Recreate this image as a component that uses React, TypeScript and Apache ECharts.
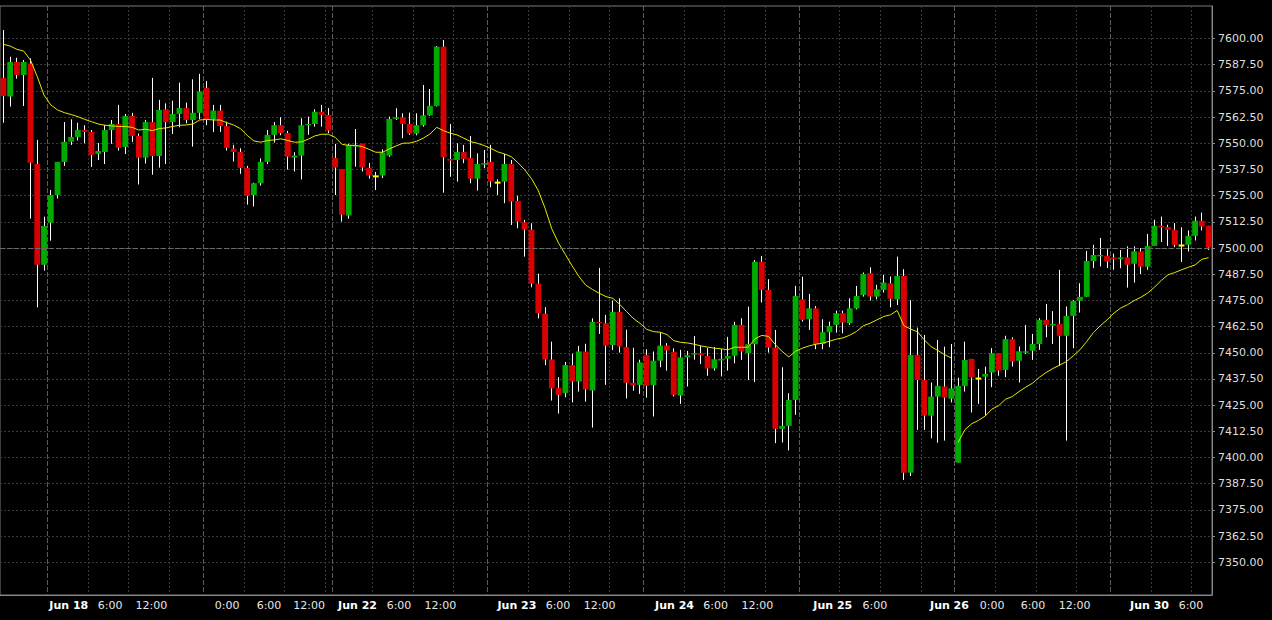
import React, { useEffect, useRef } from 'react';
import * as echarts from 'echarts';

// ---- data ----
const openVals = [
  7581.3, 7572.3, 7588.8, 7582.6, 7588.1, 7540.1, 7492.0, 7512.1, 7525.3, 7541.1,
  7550.7, 7553.0, 7556.3, 7555.4, 7544.9, 7545.8, 7556.3, 7559.2, 7548.2, 7563.0,
  7553.5, 7543.1, 7560.1, 7543.9, 7566.2, 7560.1, 7564.0, 7566.8, 7561.1, 7564.5,
  7576.4, 7561.4, 7565.6, 7558.2, 7547.4, 7545.8, 7538.2, 7525.3, 7530.9, 7541.1,
  7554.0, 7558.6, 7554.9, 7543.1, 7544.1, 7558.6, 7559.2, 7565.0, 7563.5, 7543.0,
  7537.7, 7515.5, 7548.4, 7549.7, 7538.2, 7534.2, 7534.6, 7544.1, 7561.6, 7562.4,
  7559.2, 7554.6, 7558.6, 7563.3, 7567.8, 7596.1, 7542.5, 7542.0, 7545.8, 7543.0,
  7533.1, 7539.8, 7541.1, 7531.2, 7531.7, 7540.1, 7522.5, 7512.3, 7508.8, 7483.0,
  7468.6, 7446.8, 7433.3, 7430.7, 7444.1, 7436.3, 7450.6, 7432.0, 7464.7, 7464.1,
  7453.7, 7469.5, 7452.7, 7435.7, 7434.7, 7449.0, 7434.6, 7446.2, 7453.4, 7450.5,
  7429.6, 7447.8, 7449.4, 7449.8, 7448.5, 7442.5, 7446.3, 7447.2, 7448.6, 7463.3,
  7449.8, 7454.1, 7493.5, 7480.0, 7452.5, 7413.7, 7415.1, 7427.5, 7475.5, 7466.0,
  7471.2, 7454.2, 7459.8, 7463.3, 7468.9, 7464.1, 7471.2, 7477.6, 7488.0, 7476.8,
  7480.0, 7483.2, 7475.5, 7486.7, 7392.8, 7448.9, 7437.0, 7420.0, 7429.1, 7433.9,
  7428.1, 7397.6, 7434.2, 7447.1, 7437.7, 7438.6, 7440.6, 7449.8, 7441.8, 7456.5,
  7446.2, 7450.0, 7451.0, 7454.2, 7465.7, 7463.0, 7463.8, 7458.1, 7467.6, 7474.8,
  7476.7, 7493.8, 7496.0, 7496.3, 7495.5, 7494.7, 7495.5, 7492.5, 7498.4, 7491.1,
  7501.0, 7510.6, 7510.0, 7508.7, 7501.2, 7501.5, 7505.8, 7513.0, 7510.6,
];

const closeVals = [
  7572.6, 7588.8, 7582.6, 7588.8, 7540.7, 7492.0, 7510.5, 7525.3, 7541.1, 7550.7,
  7553.0, 7556.3, 7555.4, 7544.4, 7546.3, 7556.3, 7559.2, 7547.8, 7563.0, 7553.5,
  7543.1, 7560.1, 7543.9, 7565.9, 7560.1, 7564.0, 7566.8, 7561.1, 7564.5, 7574.7,
  7561.1, 7565.6, 7558.2, 7547.8, 7545.8, 7538.2, 7524.9, 7530.9, 7541.1, 7554.0,
  7558.6, 7554.9, 7543.6, 7544.1, 7558.6, 7559.2, 7565.0, 7563.5, 7556.0, 7538.4,
  7515.9, 7549.2, 7549.0, 7538.4, 7534.6, 7534.2, 7545.6, 7561.6, 7562.4, 7559.2,
  7554.6, 7558.6, 7563.3, 7567.8, 7596.1, 7543.3, 7541.7, 7545.8, 7542.5, 7533.1,
  7540.1, 7540.6, 7531.7, 7531.2, 7540.1, 7522.2, 7512.6, 7508.8, 7483.0, 7468.9,
  7446.8, 7433.0, 7429.9, 7444.1, 7436.3, 7450.6, 7432.5, 7464.7, 7464.1, 7453.4,
  7469.5, 7453.0, 7435.7, 7434.4, 7445.4, 7434.2, 7446.2, 7453.4, 7451.1, 7429.9,
  7447.8, 7448.9, 7449.8, 7448.9, 7442.5, 7446.9, 7447.1, 7448.5, 7463.3, 7450.6,
  7454.1, 7493.5, 7480.0, 7452.5, 7413.7, 7415.1, 7427.5, 7477.1, 7465.7, 7471.2,
  7454.2, 7459.8, 7462.8, 7468.9, 7464.4, 7471.2, 7477.1, 7487.6, 7476.8, 7480.3,
  7483.5, 7475.8, 7486.7, 7392.8, 7448.9, 7437.0, 7420.0, 7429.1, 7434.2, 7428.6,
  7433.0, 7434.2, 7446.6, 7438.2, 7437.7, 7439.9, 7449.8, 7441.5, 7456.5, 7445.8,
  7450.7, 7450.7, 7454.2, 7465.7, 7463.3, 7463.8, 7458.1, 7467.6, 7474.8, 7476.7,
  7493.8, 7496.7, 7496.7, 7493.6, 7494.7, 7495.5, 7492.0, 7498.4, 7491.1, 7501.0,
  7510.6, 7509.8, 7508.7, 7501.5, 7501.2, 7505.8, 7513.0, 7510.3, 7500.2,
];

const highVals = [
  7604.0, 7591.3, 7590.8, 7589.7, 7590.5, 7551.6, 7515.0, 7527.7, 7541.1, 7560.1,
  7561.4, 7559.8, 7558.6, 7556.3, 7550.1, 7558.7, 7561.1, 7568.3, 7564.0, 7564.5,
  7554.7, 7561.1, 7581.2, 7570.7, 7569.0, 7570.3, 7578.9, 7569.4, 7580.5, 7583.1,
  7579.7, 7568.3, 7568.3, 7560.3, 7549.2, 7547.6, 7539.2, 7531.2, 7542.8, 7556.3,
  7560.1, 7562.4, 7555.9, 7545.7, 7561.9, 7562.7, 7566.2, 7568.3, 7566.8, 7549.7,
  7537.7, 7549.7, 7556.8, 7549.7, 7540.6, 7536.3, 7547.1, 7562.7, 7566.7, 7564.3,
  7564.6, 7564.3, 7577.8, 7575.9, 7596.4, 7599.3, 7559.2, 7550.0, 7549.2, 7553.5,
  7545.2, 7546.8, 7549.2, 7532.8, 7544.9, 7542.0, 7524.9, 7513.4, 7511.8, 7487.7,
  7471.8, 7455.3, 7438.4, 7445.6, 7449.5, 7453.3, 7454.3, 7466.4, 7490.5, 7468.1,
  7474.9, 7476.0, 7461.0, 7452.4, 7446.7, 7451.7, 7450.6, 7459.7, 7454.6, 7452.1,
  7451.4, 7450.9, 7458.0, 7453.3, 7452.2, 7452.7, 7451.7, 7457.6, 7464.8, 7466.5,
  7472.0, 7494.3, 7496.2, 7485.1, 7460.9, 7443.1, 7430.7, 7481.9, 7486.3, 7478.1,
  7472.3, 7466.0, 7464.9, 7470.1, 7470.1, 7476.0, 7481.9, 7488.3, 7490.8, 7482.4,
  7487.2, 7486.4, 7495.9, 7489.9, 7475.1, 7462.0, 7458.5, 7435.8, 7456.1, 7452.9,
  7454.2, 7438.1, 7455.3, 7447.1, 7442.3, 7443.4, 7452.2, 7449.8, 7458.1, 7457.4,
  7453.0, 7463.3, 7459.0, 7466.5, 7473.3, 7469.9, 7489.6, 7472.1, 7475.2, 7483.2,
  7498.6, 7501.5, 7504.8, 7499.4, 7497.3, 7499.0, 7500.8, 7500.8, 7500.0, 7506.7,
  7513.5, 7515.0, 7511.1, 7511.9, 7509.9, 7508.4, 7515.0, 7516.9, 7510.6,
];

const lowVals = [
  7559.8, 7567.5, 7580.8, 7567.8, 7514.0, 7471.7, 7489.2, 7503.5, 7523.6, 7539.2,
  7549.2, 7551.3, 7550.0, 7538.7, 7542.0, 7540.1, 7549.7, 7546.5, 7544.9, 7550.6,
  7530.3, 7540.3, 7535.0, 7538.4, 7540.1, 7554.4, 7557.6, 7559.5, 7548.4, 7561.4,
  7558.7, 7555.4, 7555.4, 7546.5, 7541.3, 7535.4, 7520.7, 7519.8, 7529.8, 7540.1,
  7550.3, 7553.8, 7537.4, 7536.5, 7532.7, 7554.0, 7557.9, 7557.9, 7554.8, 7525.3,
  7512.6, 7514.0, 7538.8, 7536.5, 7533.1, 7527.7, 7533.4, 7543.5, 7561.1, 7552.4,
  7554.0, 7553.8, 7557.9, 7563.0, 7567.5, 7526.4, 7534.0, 7531.7, 7540.5, 7530.9,
  7527.4, 7538.1, 7529.0, 7525.3, 7521.4, 7511.0, 7509.4, 7495.9, 7481.3, 7466.4,
  7444.1, 7427.2, 7421.0, 7428.8, 7426.3, 7431.5, 7426.7, 7414.3, 7459.0, 7434.7,
  7451.3, 7450.1, 7428.2, 7431.9, 7430.4, 7428.6, 7419.6, 7443.1, 7441.5, 7429.2,
  7425.6, 7433.9, 7446.7, 7444.6, 7439.0, 7441.5, 7438.7, 7441.5, 7445.0, 7446.6,
  7437.0, 7436.0, 7474.0, 7450.1, 7406.9, 7407.2, 7403.4, 7420.4, 7464.9, 7460.9,
  7451.7, 7451.7, 7452.7, 7459.6, 7459.3, 7463.3, 7470.7, 7476.8, 7474.9, 7475.5,
  7478.7, 7471.7, 7472.8, 7389.3, 7391.2, 7413.2, 7413.2, 7409.2, 7407.1, 7408.1,
  7426.3, 7397.6, 7431.5, 7421.5, 7425.6, 7419.9, 7433.6, 7439.0, 7438.4, 7443.4,
  7435.8, 7449.4, 7446.6, 7451.4, 7457.4, 7454.2, 7443.7, 7408.1, 7452.2, 7469.2,
  7476.7, 7490.4, 7491.2, 7490.4, 7489.6, 7490.4, 7481.1, 7483.5, 7487.6, 7489.6,
  7501.0, 7502.9, 7501.0, 7500.4, 7493.3, 7498.3, 7503.6, 7508.4, 7499.1,
];

// moving average, first segment (candles 0..140)
const maFirst = [
  7597.2, 7596.4, 7594.8, 7594.0, 7589.7, 7581.8, 7573.0, 7568.3, 7565.9, 7564.6,
  7563.7, 7562.7, 7561.4, 7560.3, 7559.2, 7558.6, 7558.3, 7558.0, 7558.0, 7557.6,
  7556.3, 7556.7, 7556.0, 7557.0, 7557.3, 7558.0, 7558.6, 7558.7, 7559.2, 7561.1,
  7561.4, 7561.1, 7561.1, 7559.8, 7558.7, 7557.0, 7553.8, 7551.1, 7550.5, 7551.3,
  7551.6, 7552.1, 7551.3, 7550.5, 7550.6, 7551.9, 7553.5, 7554.3, 7554.3, 7552.8,
  7549.5, 7549.0, 7549.0, 7548.4, 7547.1, 7545.7, 7545.7, 7547.3, 7548.7, 7550.0,
  7550.1, 7550.9, 7552.4, 7554.4, 7557.6, 7556.0, 7554.8, 7554.0, 7552.4, 7550.8,
  7550.0, 7548.9, 7547.5, 7545.9, 7544.9, 7543.6, 7540.7, 7537.3, 7533.1, 7527.4,
  7519.0, 7509.1, 7502.3, 7496.9, 7491.5, 7486.4, 7482.3, 7480.2, 7478.4, 7476.8,
  7476.0, 7473.2, 7469.8, 7466.5, 7464.1, 7461.2, 7460.1, 7459.8, 7458.7, 7455.8,
  7455.0, 7454.7, 7454.1, 7453.3, 7452.7, 7452.2, 7451.9, 7451.4, 7452.7, 7452.6,
  7452.7, 7456.6, 7458.3, 7457.8, 7453.9, 7450.7, 7448.0, 7450.7, 7452.2, 7453.3,
  7454.1, 7454.6, 7455.5, 7456.5, 7457.1, 7458.4, 7460.2, 7462.9, 7464.1, 7465.7,
  7467.3, 7468.1, 7470.2, 7462.9, 7461.3, 7460.0, 7456.2, 7453.0, 7451.1, 7449.1,
  7447.5,
];

// moving average, second segment (restarts at candle 141)
const maSecondStart = 141;
const maSecond = [
  7407.2, 7413.3, 7416.1, 7417.7, 7419.8, 7423.1, 7424.8, 7427.8, 7429.1, 7431.5,
  7433.6, 7435.5, 7438.3, 7440.6, 7442.5, 7444.1, 7445.8, 7448.5, 7451.4, 7455.4,
  7459.7, 7462.9, 7465.7, 7468.9, 7471.3, 7472.9, 7474.9, 7476.5, 7478.5, 7481.3,
  7484.5, 7487.2, 7488.3, 7489.6, 7490.8, 7491.9, 7494.6, 7495.4,
];

const categories = openVals.map((_, i) => `#${i + 1}`);

const priceTicks = [
  7350, 7362.5, 7375, 7387.5, 7400, 7412.5, 7425, 7437.5, 7450, 7462.5, 7475,
  7487.5, 7500, 7512.5, 7525, 7537.5, 7550, 7562.5, 7575, 7587.5, 7600,
];
const priceLevelLine = 7500;

// time axis: label texts and their places (in candle units)
const timeLabels = [
  'Jun 18', '6:00', '12:00', '0:00', '6:00', '12:00', 'Jun 22', '6:00', '12:00',
  'Jun 23', '6:00', '12:00', 'Jun 24', '6:00', '12:00', 'Jun 25', '6:00',
  'Jun 26', '0:00', '6:00', '12:00', 'Jun 30', '6:00',
];
const timeLabelAt = [
  10.16, 16.25, 22.37, 33.53, 39.73, 45.64, 52.8, 58.93, 65.04,
  76.35, 82.41, 88.55, 99.62, 105.7, 111.87, 123.0, 129.2,
  140.23, 146.54, 152.56, 158.72, 169.78, 175.9,
];
// day boundaries and 6-hour boundaries (candle index boundaries)
const dayLines = [7, 30, 49, 72, 95, 118, 141, 164];
const hourLines = [13, 19, 25, 36, 42, 48, 55, 61, 67, 78, 84, 90, 101, 107, 113, 124, 130, 136, 147, 153, 159, 170, 176];

const FONT = 'DejaVu Sans';

export default function App() {
  const ref = useRef<HTMLDivElement>(null);

  useEffect(() => {
    if (!ref.current) return;
    const chart = echarts.init(ref.current, null, { renderer: 'svg' });
    const n = categories.length;
    const candleData = openVals.map((o, i) => [i, o, closeVals[i], lowVals[i], highVals[i]]);
    const maSecondData = maSecond.map((v, k) => [maSecondStart + k, v]);

    const option: any = {
      animation: false,
      backgroundColor: '#000000',
      textStyle: { fontFamily: FONT },
      grid: {
        left: 0,
        right: 60,
        top: 6,
        bottom: 25,
        show: true,
        borderColor: '#7a7a7a',
        borderWidth: 1,
        backgroundColor: 'transparent',
      },
      xAxis: [
        {
          type: 'category',
          data: categories,
          boundaryGap: true,
          position: 'top',
          axisLine: { show: false },
          axisTick: { show: false },
          axisLabel: { show: false },
          splitLine: { show: false },
        },
        {
          type: 'value',
          min: 0,
          max: n,
          position: 'bottom',
          axisLine: { show: false },
          axisTick: { show: false, customValues: hourLines },
          axisLabel: { show: false },
          splitLine: { show: true, lineStyle: { color: '#3a3a3a', width: 1, type: [2, 2] } },
        },
        {
          type: 'value',
          min: 0,
          max: n,
          position: 'bottom',
          axisLine: { show: true, onZero: false, lineStyle: { color: '#8a8a8a', width: 1 } },
          axisTick: { show: false, customValues: dayLines },
          splitLine: { show: true, lineStyle: { color: '#5c5c5c', width: 1, type: [5, 2] } },
          axisLabel: {
            show: true,
            customValues: timeLabelAt,
            margin: 5,
            formatter: (v: number) => {
              const k = timeLabelAt.findIndex((p) => Math.abs(p - v) < 0.001);
              if (k < 0) return '';
              const t = timeLabels[k];
              return t.startsWith('Jun') ? `{b|${t}}` : `{r|${t}}`;
            },
            rich: {
              b: { fontFamily: FONT, fontSize: 11, fontWeight: 'bold', color: '#ffffff' },
              r: { fontFamily: FONT, fontSize: 11, fontWeight: 'normal', color: '#e6e6e6' },
            },
          },
        },
      ],
      yAxis: {
        type: 'value',
        position: 'right',
        scale: true,
        min: 7334.4,
        max: 7615.5,
        axisLine: { show: true, onZero: false, lineStyle: { color: '#8a8a8a', width: 1 } },
        axisTick: { show: true, length: 3, inside: false, customValues: priceTicks, lineStyle: { color: '#8a8a8a' } },
        axisLabel: {
          show: true,
          customValues: priceTicks,
          margin: 6,
          color: '#dedede',
          fontSize: 11,
          fontFamily: FONT,
          formatter: (v: number) => v.toFixed(2),
        },
        splitLine: { show: true, lineStyle: { color: '#3a3a3a', width: 1, type: [2, 2] } },
      },
      series: [
        {
          type: 'line',
          xAxisIndex: 0,
          yAxisIndex: 0,
          data: [],
          z: 1,
          markLine: {
            silent: true,
            symbol: 'none',
            label: { show: false },
            lineStyle: { color: '#6a6a6a', width: 1, type: [5, 2] },
            data: [{ yAxis: priceLevelLine }],
          },
        },
        {
          type: 'custom',
          xAxisIndex: 0,
          yAxisIndex: 0,
          clip: false,
          z: 3,
          encode: { x: 0, y: [1, 2, 3, 4] },
          data: candleData,
          renderItem: (params: any, api: any) => {
            const idx = api.value(0);
            const o = api.value(1);
            const c = api.value(2);
            const lo = api.value(3);
            const hi = api.value(4);
            const pO = api.coord([idx, o]);
            const pC = api.coord([idx, c]);
            const pL = api.coord([idx, lo]);
            const pH = api.coord([idx, hi]);
            const band = api.size([1, 0])[0];
            const bodyW = band * 0.86;
            const cx = pO[0];
            const wx = Math.floor(cx) + 0.5;
            const doji = o === c;
            let y = Math.min(pO[1], pC[1]);
            let h = Math.abs(pO[1] - pC[1]);
            if (doji) {
              y = y - 1;
              h = 2;
            } else if (h < 1.3) {
              h = 1.3;
            }
            const fill = doji ? '#ffff00' : c > o ? '#00aa00' : '#d80000';
            return {
              type: 'group',
              children: [
                {
                  type: 'line',
                  shape: { x1: wx, y1: pH[1], x2: wx, y2: pL[1] },
                  style: { stroke: '#ffffff', lineWidth: 1 },
                },
                {
                  type: 'rect',
                  shape: { x: cx - bodyW / 2, y, width: bodyW, height: h },
                  style: { fill, stroke: null },
                },
              ],
            };
          },
        },
        {
          type: 'line',
          xAxisIndex: 0,
          yAxisIndex: 0,
          data: maFirst,
          symbol: 'none',
          showSymbol: false,
          z: 4,
          lineStyle: { color: '#e6e600', width: 1 },
        },
        {
          type: 'line',
          xAxisIndex: 0,
          yAxisIndex: 0,
          data: maSecondData,
          symbol: 'none',
          showSymbol: false,
          z: 4,
          lineStyle: { color: '#e6e600', width: 1 },
        },
      ],
    };

    chart.setOption(option);
    return () => chart.dispose();
  }, []);

  return (
    <div
      ref={ref}
      style={{ position: 'fixed', left: 0, top: 0, width: 1272, height: 620, background: '#000' }}
    />
  );
}
